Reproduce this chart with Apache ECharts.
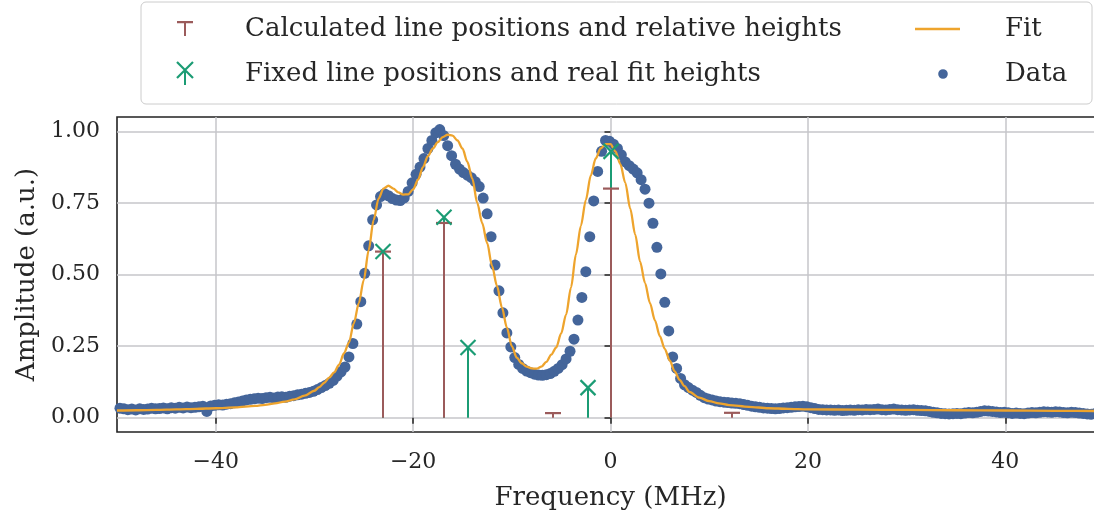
<!DOCTYPE html>
<html>
<head>
<meta charset="utf-8">
<script src="https://cdn.jsdelivr.net/npm/echarts@6/dist/echarts.min.js"></script>
<style>
  html, body { margin: 0; padding: 0; background: #ffffff; }
  #chart { width: 1094px; height: 520px; }
</style>
</head>
<body>
<div id="chart"></div>
<script>
// Measured spectrum: evenly sampled frequency grid (MHz) and normalised amplitude
const freqStart = -49.7;
const freqStep = 0.4;
const amplitude = [
  0.033, 0.031, 0.028, 0.030, 0.027, 0.031, 0.029, 0.030, 0.033, 0.031,
  0.032, 0.034, 0.031, 0.035, 0.033, 0.036, 0.034, 0.037, 0.035, 0.036,
  0.038, 0.040, 0.022, 0.041, 0.043, 0.045, 0.044, 0.047, 0.049, 0.052,
  0.055, 0.058, 0.062, 0.064, 0.066, 0.068, 0.067, 0.070, 0.071, 0.069,
  0.072, 0.073, 0.071, 0.075, 0.077, 0.080, 0.082, 0.085, 0.088, 0.092,
  0.098, 0.105, 0.112, 0.120, 0.130, 0.145, 0.160, 0.177, 0.212, 0.259,
  0.327, 0.405, 0.504, 0.600, 0.691, 0.743, 0.772, 0.782, 0.775, 0.765,
  0.760, 0.758, 0.768, 0.790, 0.820, 0.850, 0.875, 0.905, 0.940, 0.968,
  0.995, 1.006, 0.985, 0.950, 0.915, 0.885, 0.868, 0.856, 0.847, 0.838,
  0.824, 0.807, 0.767, 0.712, 0.632, 0.533, 0.443, 0.366, 0.296, 0.247,
  0.210, 0.186, 0.172, 0.163, 0.157, 0.152, 0.149, 0.148, 0.150, 0.154,
  0.162, 0.172, 0.185, 0.205, 0.232, 0.274, 0.341, 0.420, 0.510, 0.632,
  0.757, 0.860, 0.930, 0.968, 0.965, 0.955, 0.940, 0.918, 0.893, 0.880,
  0.868, 0.855, 0.831, 0.798, 0.749, 0.679, 0.595, 0.502, 0.403, 0.303,
  0.212, 0.172, 0.137, 0.115, 0.105, 0.096, 0.088, 0.078, 0.070, 0.065,
  0.062, 0.058, 0.056, 0.054, 0.053, 0.051, 0.050, 0.049, 0.046, 0.043,
  0.040, 0.038, 0.036, 0.034, 0.033, 0.032, 0.031, 0.032, 0.034, 0.035,
  0.036, 0.038, 0.039, 0.040, 0.038, 0.035, 0.032, 0.029, 0.028, 0.027,
  0.027, 0.026, 0.027, 0.025, 0.026, 0.027, 0.026, 0.028, 0.027, 0.029,
  0.028, 0.029, 0.030, 0.028, 0.027, 0.029, 0.030, 0.028, 0.027, 0.026,
  0.027, 0.028, 0.026, 0.025, 0.024, 0.022, 0.019, 0.017, 0.015, 0.014,
  0.013, 0.014, 0.015, 0.014, 0.016, 0.018, 0.017, 0.019, 0.022, 0.024,
  0.023, 0.022, 0.020, 0.018, 0.019, 0.017, 0.015, 0.016, 0.015, 0.014,
  0.016, 0.018, 0.017, 0.019, 0.021, 0.020, 0.019, 0.021, 0.020, 0.018,
  0.017, 0.019, 0.018, 0.016, 0.015, 0.013, 0.012, 0.014, 0.012
];

// Fitted line shape, sampled
const fitFreq = [
  -50, -48, -46, -44, -42, -40, -38, -36, -35, -34, -33, -32, -31, -30,
  -29.5, -29, -28.5, -28, -27.5, -27, -26.5, -26, -25.5, -25, -24.5, -24,
  -23.5, -23, -22.5, -22, -21.5, -21, -20.5, -20, -19.5, -19, -18.5, -18,
  -17.5, -17, -16.5, -16, -15.5, -15, -14.5, -14, -13.5, -13, -12.5, -12,
  -11.5, -11, -10.5, -10, -9.5, -9, -8.5, -8, -7.5, -7, -6.5, -6, -5.5, -5,
  -4.5, -4, -3.5, -3, -2.5, -2, -1.5, -1, -0.5, 0, 0.5, 1, 1.5, 2, 2.5, 3,
  3.5, 4, 4.5, 5, 5.5, 6, 6.5, 7, 7.5, 8, 9, 10, 11, 12, 14, 16, 18, 20,
  25, 30, 35, 40, 45, 50
];
const fitAmp = [
  0.025, 0.026, 0.027, 0.029, 0.031, 0.033, 0.036, 0.041, 0.045, 0.050, 0.056, 0.064, 0.077, 0.094,
  0.107, 0.122, 0.140, 0.158, 0.185, 0.225, 0.262, 0.330, 0.400, 0.480, 0.585, 0.690,
  0.765, 0.800, 0.810, 0.800, 0.787, 0.779, 0.780, 0.797, 0.831, 0.875, 0.913, 0.940,
  0.962, 0.980, 0.988, 0.985, 0.968, 0.940, 0.893, 0.835, 0.750, 0.680, 0.610, 0.530,
  0.460, 0.385, 0.315, 0.250, 0.210, 0.190, 0.178, 0.172, 0.171, 0.178, 0.195, 0.220, 0.245, 0.294,
  0.360, 0.455, 0.570, 0.670, 0.760, 0.845, 0.905, 0.940, 0.955, 0.955, 0.930, 0.885, 0.820, 0.730, 0.640, 0.545,
  0.470, 0.400, 0.340, 0.285, 0.240, 0.200, 0.162, 0.132, 0.110, 0.090, 0.070, 0.058, 0.050, 0.044, 0.038, 0.033, 0.031, 0.029,
  0.028, 0.027, 0.026, 0.025, 0.024, 0.023
];

// Stem markers: calculated line positions / relative heights and fixed positions / fitted heights
const calcPos = [-23.0, -16.9, -5.8, 0.0, 12.35];
const calcHeight = [0.58, 0.68, 0.016, 0.80, 0.017];
const fixedPos = [-23.0, -16.9, -14.4, -2.3, 0.0];
const fixedHeight = [0.58, 0.70, 0.245, 0.105, 0.93];

const xTicks = [-40, -20, 0, 20, 40];
const yTicks = [0, 0.25, 0.5, 0.75, 1.0];

const FONT = '"DejaVu Serif", serif';
const INK = '#262626';
const BLUE = '#44659a';
const ORANGE = '#eea42d';
const BROWN = '#9b5b5b';
const GREEN = '#1b9c74';

const dataPoints = amplitude.map((a, i) => [freqStart + i * freqStep, a]);
const fitPoints = fitFreq.map((f, i) => [f, fitAmp[i]]);
const calcPoints = calcPos.map((p, i) => [p, calcHeight[i]]);
const fixedPoints = fixedPos.map((p, i) => [p, fixedHeight[i]]);

// Stems are snapped to whole pixels so overlapping stems cover each other cleanly
function stemLine(color) {
  return function (params, api) {
    const b = api.coord([api.value(0), 0]);
    const t = api.coord([api.value(0), api.value(1)]);
    const x = Math.round(b[0]);
    return {
      type: 'line',
      shape: { x1: x, y1: b[1], x2: x, y2: t[1] },
      style: { stroke: color, lineWidth: 2 }
    };
  };
}

function calcStem(params, api) {
  const b = api.coord([api.value(0), 0]);
  const t = api.coord([api.value(0), api.value(1)]);
  const x = Math.round(b[0]);
  return {
    type: 'group',
    children: [
      { type: 'line', shape: { x1: x, y1: b[1], x2: x, y2: t[1] },
        style: { stroke: BROWN, lineWidth: 2 } },
      { type: 'line', shape: { x1: x - 8, y1: t[1], x2: x + 8, y2: t[1] },
        style: { stroke: BROWN, lineWidth: 2.2 } }
    ]
  };
}

function crossMarker(params, api) {
  const t = api.coord([api.value(0), api.value(1)]);
  const x = Math.round(t[0]);
  const r = 7.5;
  return {
    type: 'group',
    children: [
      { type: 'line', shape: { x1: x - r, y1: t[1] - r, x2: x + r, y2: t[1] + r },
        style: { stroke: GREEN, lineWidth: 2.2 } },
      { type: 'line', shape: { x1: x - r, y1: t[1] + r, x2: x + r, y2: t[1] - r },
        style: { stroke: GREEN, lineWidth: 2.2 } }
    ]
  };
}

// Legend glyphs (first two move-tos fix the icon box size)
const calcIcon = 'path://M0 0M110 34M47 9L63 9L63 11.2L47 11.2ZM54 9L56 9L56 24L54 24Z';
const fixedIcon = 'path://M0 0M110 34' +
  'M47.78 4.22L63.78 20.22L62.22 21.78L46.22 5.78Z' +
  'M63.78 5.78L47.78 21.78L46.22 20.22L62.22 4.22Z' +
  'M54 13L56 13L56 28L54 28Z';
const fitIcon = 'path://M0 0M125 34M40 15.8L85 15.8L85 18.2L40 18.2Z';
const dataIcon = 'path://M0 0M125 34M63.2 17A4.8 4.8 0 1 1 72.8 17A4.8 4.8 0 1 1 63.2 17Z';

const CALC = 'Calculated line positions and relative heights';
const FIXED = 'Fixed line positions and real fit heights';

const legendText = { fontFamily: FONT, fontSize: 26, color: INK };

const chart = echarts.init(document.getElementById('chart'), null, { renderer: 'canvas' });

chart.setOption({
  animation: false,
  backgroundColor: '#ffffff',
  grid: {
    left: 117, width: 987, top: 117, height: 315,
    outerBoundsMode: 'none', containLabel: false,
    show: true, borderColor: '#222222', borderWidth: 1.6, backgroundColor: 'transparent'
  },
  graphic: [{
    type: 'rect', z: 0, silent: true,
    shape: { x: 141, y: 2, width: 951, height: 102, r: 5 },
    style: { fill: 'rgba(255,255,255,0.85)', stroke: '#cccccc', lineWidth: 1 }
  }],
  legend: [{
    orient: 'vertical', left: 130, top: 12, padding: 0,
    itemWidth: 110, itemHeight: 34, itemGap: 11, selectedMode: false, z: 10,
    textStyle: legendText,
    data: [
      { name: CALC, icon: calcIcon, itemStyle: { color: BROWN, borderWidth: 0 } },
      { name: FIXED, icon: fixedIcon, itemStyle: { color: GREEN, borderWidth: 0 } }
    ]
  }, {
    orient: 'vertical', left: 875, top: 12, padding: 0,
    itemWidth: 125, itemHeight: 34, itemGap: 11, selectedMode: false, z: 10,
    textStyle: legendText,
    data: [
      { name: 'Fit', icon: fitIcon, itemStyle: { color: ORANGE, borderWidth: 0 } },
      { name: 'Data', icon: dataIcon, itemStyle: { color: BLUE, borderWidth: 0 } }
    ]
  }],
  xAxis: {
    type: 'value', min: -50, max: 50,
    name: 'Frequency (MHz)', nameLocation: 'middle', nameGap: 53,
    nameTextStyle: { fontFamily: FONT, fontSize: 26, color: INK },
    axisLine: { show: false },
    axisTick: { show: true, customValues: xTicks, length: 6, lineStyle: { color: '#222222', width: 1.5 } },
    axisLabel: {
      customValues: xTicks, margin: 19, fontFamily: FONT, fontSize: 22, color: INK,
      formatter: v => (v < 0 ? '\u2212' + Math.abs(v) : String(v))
    },
    splitLine: { show: true, lineStyle: { color: '#c6c6ca', width: 1.5 } }
  },
  yAxis: {
    type: 'value', min: -0.05, max: 1.05,
    name: 'Amplitude (a.u.)', nameLocation: 'middle', nameGap: 74,
    nameTextStyle: { fontFamily: FONT, fontSize: 26, color: INK },
    axisLine: { show: false },
    axisTick: { show: true, customValues: yTicks, length: 6, lineStyle: { color: '#222222', width: 1.5 } },
    axisLabel: {
      customValues: yTicks, margin: 17, fontFamily: FONT, fontSize: 22, color: INK,
      formatter: v => v.toFixed(2)
    },
    splitLine: { show: true, lineStyle: { color: '#c6c6ca', width: 1.5 } }
  },
  series: [
    {
      name: 'Data', type: 'scatter', data: dataPoints, z: 2,
      symbol: 'circle', symbolSize: 11, clip: true,
      itemStyle: { color: BLUE, opacity: 1 }
    },
    {
      name: 'Fit', type: 'line', data: fitPoints, z: 3,
      showSymbol: false, smooth: 0.3, smoothMonotone: 'x', clip: true,
      color: ORANGE, lineStyle: { color: ORANGE, width: 2.3 }
    },
    {
      name: FIXED, type: 'custom', data: fixedPoints, z: 4,
      renderItem: stemLine(GREEN), itemStyle: { color: GREEN }
    },
    {
      name: CALC, type: 'custom', data: calcPoints, z: 5,
      renderItem: calcStem, itemStyle: { color: BROWN }
    },
    {
      name: FIXED, type: 'custom', data: fixedPoints, z: 6,
      renderItem: crossMarker, itemStyle: { color: GREEN }
    }
  ]
});
</script>
</body>
</html>
